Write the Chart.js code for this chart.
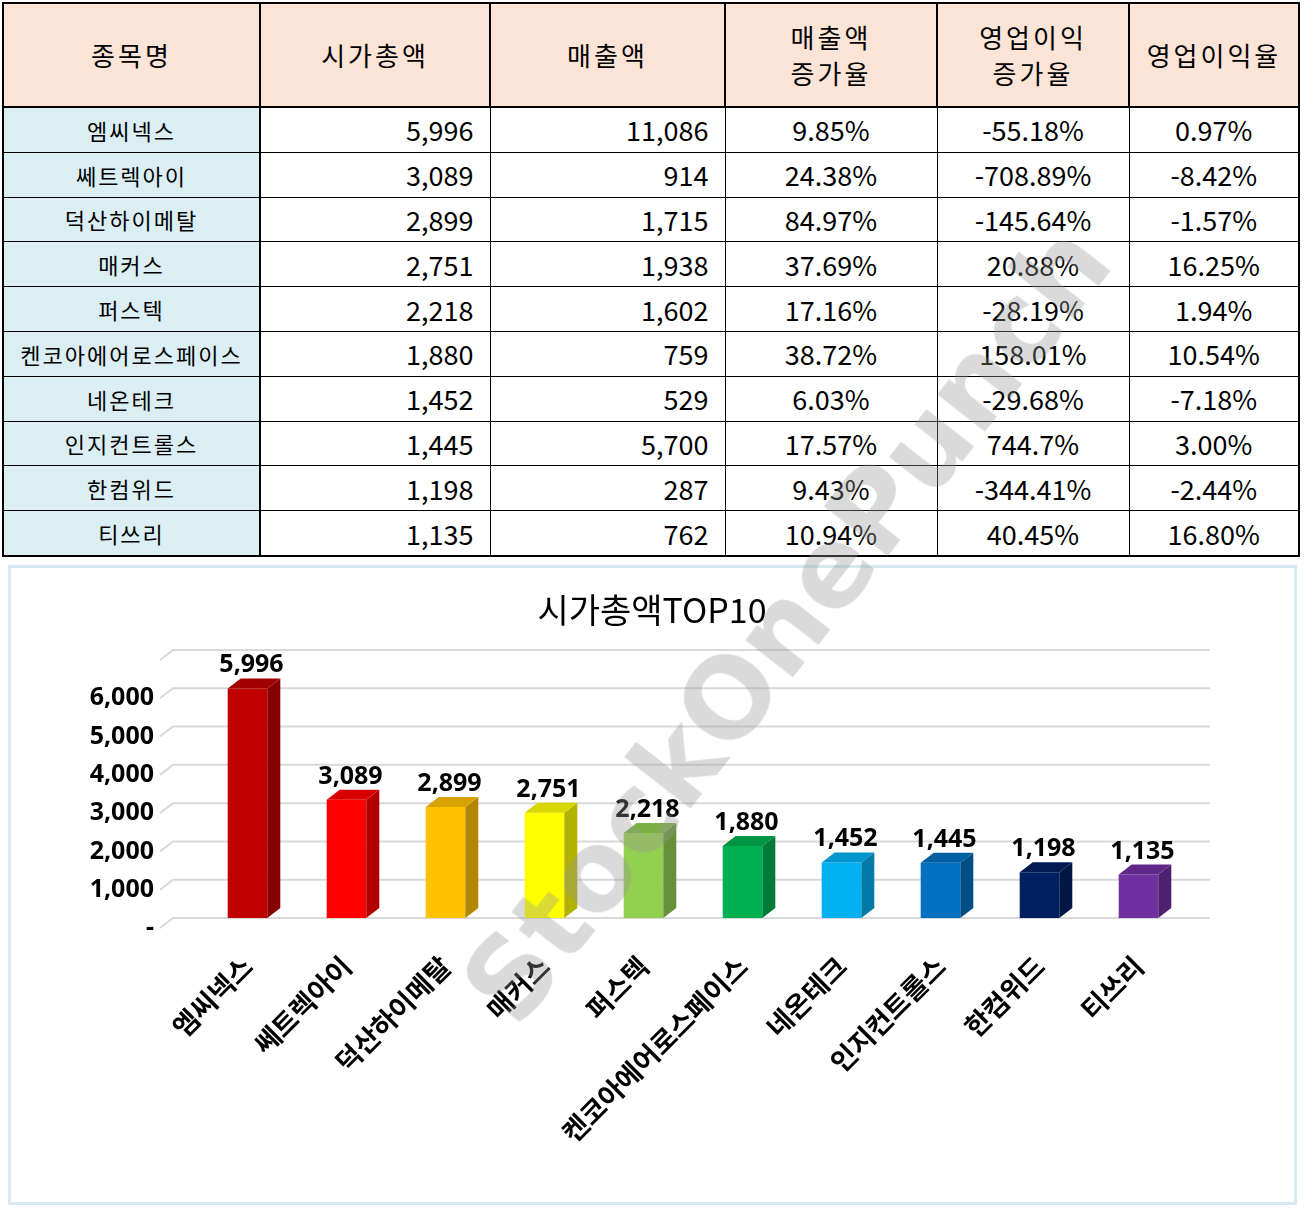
<!DOCTYPE html>
<html><head><meta charset="utf-8">
<script src="https://cdn.jsdelivr.net/npm/chart.js@4"></script>
<style>
body{margin:0;background:#fff;font-family:"Noto Sans CJK KR","Noto Sans",sans-serif;}
table{position:absolute;left:2px;top:2px;border-collapse:collapse;width:1298px;}
td,th{border:1px solid #000;padding:0;}
th{background:#fce4d6;font-weight:normal;font-size:26px;letter-spacing:3px;height:102px;border:2px solid #000;line-height:36px;}
td{height:43.8px;font-size:27px;}
td.n{background:#daeef3;text-align:center;font-size:22px;letter-spacing:2px;border-right:2px solid #000;}
td.r{text-align:right;padding-right:16px;}
td.c{text-align:center;}
table{border:2px solid #000;}
#box{position:absolute;left:8px;top:565px;width:1283px;height:634px;border:3px solid #d6eaf1;}
#wm{position:absolute;font:bold 110px "DejaVu Sans",sans-serif;color:rgba(150,150,150,0.35);transform:rotate(-52deg);transform-origin:center;white-space:nowrap;pointer-events:none;left:300px;top:560px;}
</style></head><body>
<table id="t"><tr><th style="width:255px">종목명</th><th style="width:228px">시가총액</th><th style="width:233px">매출액</th><th style="width:210px">매출액<br>증가율</th><th style="width:190px">영업이익<br>증가율</th><th>영업이익율</th></tr></table>
<div id="box"><canvas id="c"></canvas></div>
<div id="wm">StockOnePunch</div>
<script>
const names=['엠씨넥스','쎄트렉아이','덕산하이메탈','매커스','퍼스텍','켄코아에어로스페이스','네온테크','인지컨트롤스','한컴위드','티쓰리'];
const marketCap=[5996,3089,2899,2751,2218,1880,1452,1445,1198,1135];
const sales=[11086,914,1715,1938,1602,759,529,5700,287,762];
const salesGrowth=['9.85%','24.38%','84.97%','37.69%','17.16%','38.72%','6.03%','17.57%','9.43%','10.94%'];
const opGrowth=['-55.18%','-708.89%','-145.64%','20.88%','-28.19%','158.01%','-29.68%','744.7%','-344.41%','40.45%'];
const opMargin=['0.97%','-8.42%','-1.57%','16.25%','1.94%','10.54%','-7.18%','3.00%','-2.44%','16.80%'];
const colors=['#c00000','#ff0000','#ffc000','#ffff00','#92d050','#00b050','#00b0f0','#0070c0','#002060','#7030a0'];
const t=document.getElementById('t');
names.forEach((n,i)=>{const tr=document.createElement('tr');
tr.innerHTML=`<td class="n">${n}</td><td class="r">${marketCap[i].toLocaleString()}</td><td class="r">${sales[i].toLocaleString()}</td><td class="c">${salesGrowth[i]}</td><td class="c">${opGrowth[i]}</td><td class="c">${opMargin[i]}</td>`;t.appendChild(tr);});
function shade(hex,f){const n=parseInt(hex.slice(1),16);let r=n>>16,g=n>>8&255,b=n&255;return `rgb(${r*f|0},${g*f|0},${b*f|0})`;}
const DX=13,DY=10;
const plug={id:'p3d',
beforeDatasetsDraw(ch){const {ctx,chartArea:a,scales:{y}}=ch;ctx.save();ctx.strokeStyle='#d9d9d9';ctx.lineWidth=2;
for(let v=0;v<=7000;v+=1000){const py=y.getPixelForValue(v)-DY;ctx.beginPath();ctx.moveTo(a.left-38,py+DY);ctx.lineTo(a.left-38+DX,py);ctx.lineTo(a.right+22,py);ctx.stroke();}
ctx.fillStyle='#000';ctx.font='34px "Noto Sans CJK KR"';ctx.textAlign='center';ctx.fillText('시가총액TOP10',641,55);ctx.restore();},
afterDatasetsDraw(ch){const {ctx}=ch;const m=ch.getDatasetMeta(0);ctx.save();
m.data.forEach((b,i)=>{const w=b.width,l=b.x-w/2,r=b.x+w/2,top=b.y-DY,bot=b.base-DY;
ctx.fillStyle=shade(colors[i],0.7);ctx.beginPath();ctx.moveTo(r,top);ctx.lineTo(r+DX,top-DY);ctx.lineTo(r+DX,bot-DY);ctx.lineTo(r,bot);ctx.fill();
ctx.fillStyle=shade(colors[i],0.85);ctx.beginPath();ctx.moveTo(l,top);ctx.lineTo(l+DX,top-DY);ctx.lineTo(r+DX,top-DY);ctx.lineTo(r,top);ctx.fill();
ctx.fillStyle='#000';ctx.font='bold 25px "Noto Sans"';ctx.textAlign='center';ctx.fillText(marketCap[i].toLocaleString(),b.x+4,top-DY-6);});
ctx.restore();}};
const shiftPlug={id:'shift',beforeDatasetDraw(ch){ch.ctx.save();ch.ctx.translate(0,-DY);},afterDatasetDraw(ch){ch.ctx.restore();}};
new Chart(document.getElementById('c'),{type:'bar',
data:{labels:names,datasets:[{data:marketCap,backgroundColor:colors,barPercentage:0.4,categoryPercentage:1}]},
options:{responsive:true,maintainAspectRatio:false,animation:false,
layout:{padding:{left:0,right:106,top:92,bottom:0}},
plugins:{legend:{display:false},tooltip:{enabled:false}},
scales:{y:{min:0,max:7000,ticks:{stepSize:1000,padding:36,color:'#000',font:{size:25,weight:'bold',family:'Noto Sans'},callback:v=>v==0?'-':v==7000?'':v.toLocaleString()},grid:{display:false},border:{display:false},afterFit:s=>{s.width=187;}},
x:{ticks:{minRotation:45,maxRotation:45,padding:14,color:'#000',font:{size:27,weight:'bold',family:'Noto Sans CJK KR'}},grid:{display:false},border:{display:false},afterFit:s=>{s.height=274;}}}},
plugins:[shiftPlug,plug]});
</script></body></html>
